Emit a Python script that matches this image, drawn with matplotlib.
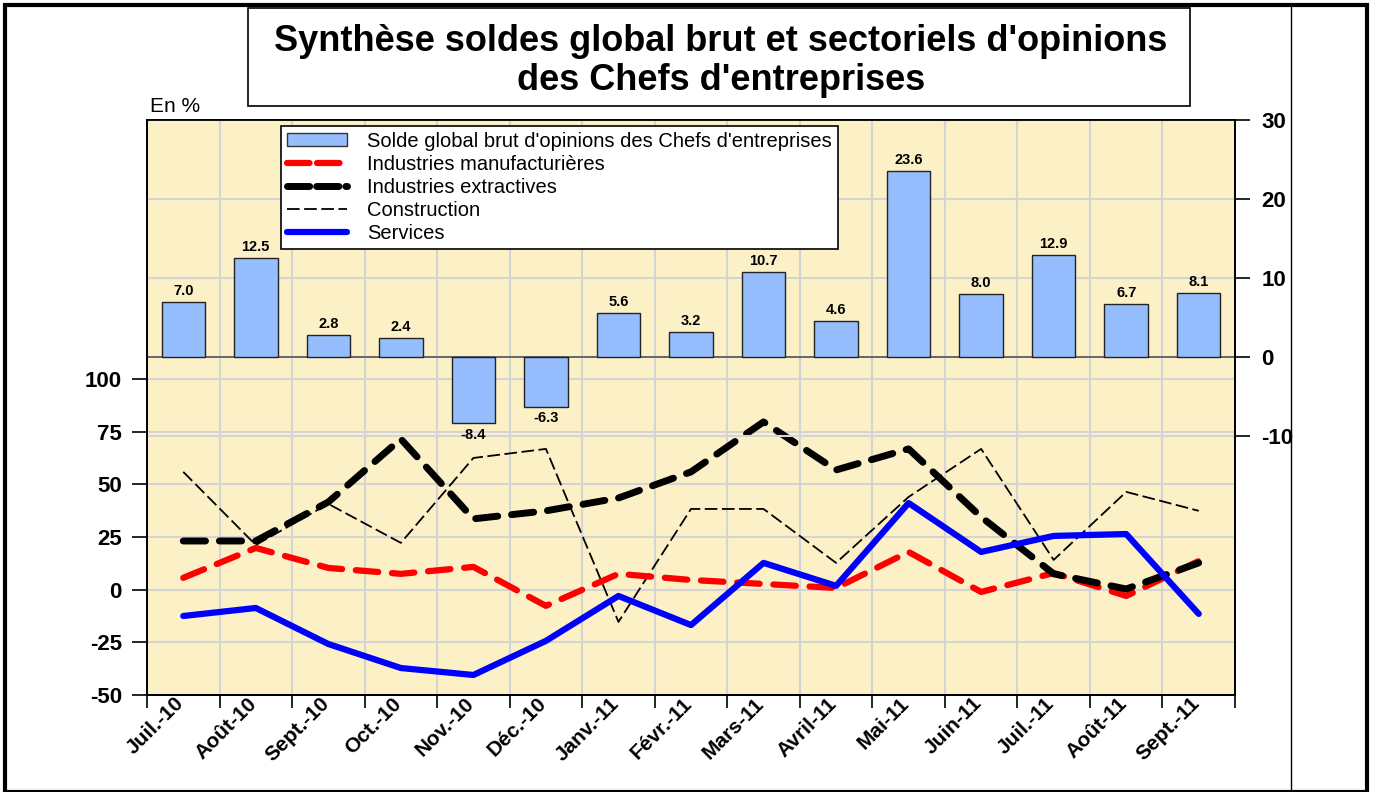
import numpy as np
import matplotlib
matplotlib.use("Agg")
import matplotlib.pyplot as plt
import matplotlib.transforms as mtrans
from matplotlib.patches import Rectangle, Patch
from matplotlib.lines import Line2D

plt.rcParams['font.family'] = ['Liberation Sans', 'DejaVu Sans']
plt.rcParams['axes.unicode_minus'] = False

mois = ['Juil.-10', 'Août-10', 'Sept.-10', 'Oct.-10', 'Nov.-10', 'Déc.-10', 'Janv.-11',
        'Févr.-11', 'Mars-11', 'Avril-11', 'Mai-11', 'Juin-11', 'Juil.-11', 'Août-11', 'Sept.-11']
solde_global = [7.0, 12.5, 2.8, 2.4, -8.4, -6.3, 5.6, 3.2, 10.7, 4.6, 23.6, 8.0, 12.9, 6.7, 8.1]
manuf = [5.6, 19.8, 10.3, 7.5, 10.8, -7.7, 7.5, 4.6, 2.7, 0.8, 17.9, -1.1, 7.9, -3.0, 13.6]
extract = [23.1, 23.1, 41.6, 71.5, 33.6, 37.4, 43.5, 55.9, 79.6, 56.8, 66.8, 34.5, 7.5, 0.3, 12.7]
construction = [55.9, 21.2, 40.7, 22.2, 62.5, 66.8, -15.3, 38.3, 38.3, 12.7, 44.0, 66.8, 14.1, 46.4, 37.4]
services = [-12.5, -8.7, -25.8, -37.2, -40.5, -24.3, -3.0, -16.8, 12.7, 1.8, 41.1, 17.9, 25.5, 26.4, -11.5]

W, H = 1375, 792
fig = plt.figure(figsize=(W / 100, H / 100), dpi=100)

x = np.arange(len(mois))
ax = fig.add_axes([147 / W, 1 - 695 / H, 1088 / W, 575 / H])
ax.set_facecolor('#FCF1C6')
ax2 = ax.twinx()
ax2.patch.set_visible(False)

# lignes (echelle de gauche)
ax.plot(x, construction, color='black', lw=1.3, dashes=(7, 2.5), zorder=3)
ax.plot(x, manuf, color='#FF0000', lw=4.5, dashes=(3.6, 2.2), dash_capstyle='round',
        solid_capstyle='round', zorder=4)
ax.plot(x, extract, color='black', lw=5, dashes=(3.2, 2.0), dash_capstyle='round', zorder=5)
ax.plot(x, services, color='#0000FF', lw=4.5, solid_capstyle='round', zorder=6)

ax.set_xlim(-0.5, len(mois) - 0.5)
ax.set_ylim(-50, 222.9)
ax.set_yticks(np.arange(-50, 101, 25))
ax.tick_params(axis='y', labelsize=16, length=11, width=1.2, pad=7)
for t in ax.get_yticklabels():
    t.set_fontweight('bold')
ax.set_xticks(np.arange(-0.5, len(mois), 1))
ax.set_xticklabels([])
ax.set_xticks(x, minor=True)
ax.set_xticklabels(mois, minor=True, rotation=45, ha='right', va='top', rotation_mode='anchor',
                   fontsize=15, fontweight='bold')
ax.tick_params(axis='x', which='major', length=9, width=1.2)
ax.tick_params(axis='x', which='minor', length=0, pad=2)
shift = mtrans.ScaledTranslation(-0.09, 0.04, fig.dpi_scale_trans)
for t in ax.get_xticklabels(minor=True):
    t.set_transform(t.get_transform() + shift)
ax.set_axisbelow(True)
ax.grid(True, axis='both', which='major', color='#D4D4D4', lw=1.5)

# barres (echelle de droite)
bars = ax2.bar(x, solde_global, width=0.6, color='#96BEFF', edgecolor='#222222', lw=1, zorder=3)
ax2.axhline(0, color='#555555', lw=1.2, zorder=2)
for xi, v in zip(x, solde_global):
    off = 0.5 if v >= 0 else -0.6
    ax2.text(xi, v + off, f'{v:.1f}', ha='center', va='bottom' if v >= 0 else 'top',
             fontsize=10.5, fontweight='bold')
ax2.set_ylim(-42.8, 30)
ax2.set_yticks([-10, 0, 10, 20, 30])
ax2.tick_params(axis='y', labelsize=16, length=11, width=1.2, pad=8)
for t in ax2.get_yticklabels():
    t.set_fontweight('bold')
ax2.set_axisbelow(True)
ax2.grid(True, axis='y', color='#D4D4D4', lw=1.5)

for a in (ax, ax2):
    for s in a.spines.values():
        s.set_linewidth(1.3)

handles = [Patch(facecolor='#96BEFF', edgecolor='#333333'),
           Line2D([], [], color='#FF0000', lw=4.5, dashes=(3.6, 1.2), dash_capstyle='round'),
           Line2D([], [], color='black', lw=5, dashes=(3.2, 1.0), dash_capstyle='round'),
           Line2D([], [], color='black', lw=1.3, dashes=(7, 2.5)),
           Line2D([], [], color='#0000FF', lw=4.5, solid_capstyle='round')]
labels = ["Solde global brut d'opinions des Chefs d'entreprises", 'Industries manufacturières',
          'Industries extractives', 'Construction', 'Services']
leg = ax2.legend(handles, labels, loc='upper left', bbox_to_anchor=(0.123, 0.99),
                 fontsize=14.5, frameon=True, fancybox=False, edgecolor='black',
                 framealpha=1, borderpad=0.3, labelspacing=0.2, handlelength=3.0,
                 handletextpad=1.0, borderaxespad=0, handleheight=0.6)
leg.get_frame().set_linewidth(1.2)
leg.set_zorder(10)

# cadre exterieur et titre
fig.patches.append(Rectangle((5 / W, 0), 1362 / W, 1 - 5 / H, transform=fig.transFigure,
                             fill=False, edgecolor='black', lw=3))
fig.add_artist(Line2D([1291 / W, 1291 / W], [0, 1 - 5 / H], transform=fig.transFigure,
                      color='black', lw=1))
fig.patches.append(Rectangle((248 / W, 1 - 106 / H), 942 / W, 98 / H, transform=fig.transFigure,
                             fill=False, edgecolor='black', lw=1.2))
fig.text(721 / W, 1 - 61 / H, "Synthèse soldes global brut et sectoriels d'opinions\ndes Chefs d'entreprises",
         ha='center', va='center', fontsize=26, fontweight='bold', linespacing=1.15)
fig.text(150 / W, 1 - 106 / H, 'En %', ha='left', va='center', fontsize=15)

fig.savefig('out.png', dpi=100)
